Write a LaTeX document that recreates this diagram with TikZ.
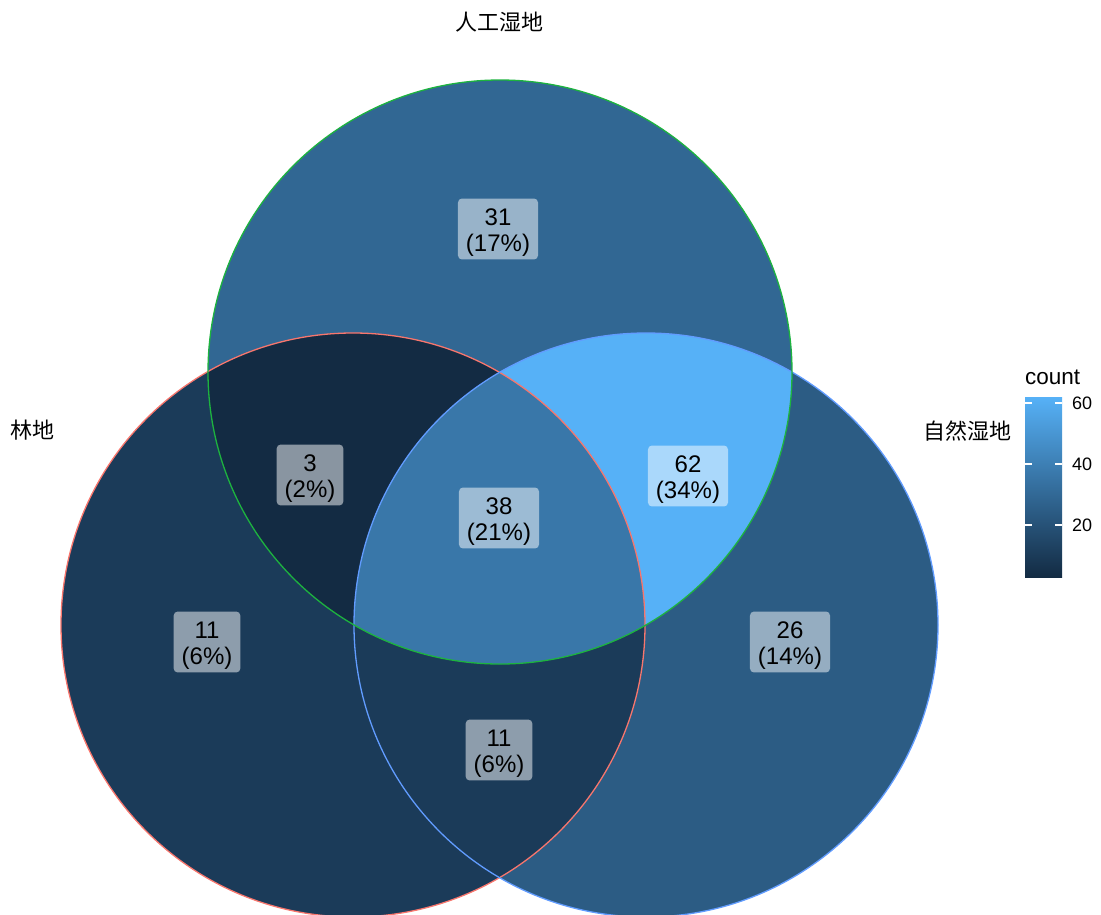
\documentclass[tikz,border=0pt]{standalone}
\usepackage{fontspec}
\setmainfont{Liberation Sans}
\newfontfamily\cjk{Noto Sans CJK SC}

\definecolor{cLow}{HTML}{132B43}
\definecolor{cHigh}{HTML}{56B1F7}
\definecolor{cMid}{HTML}{346C99}
\definecolor{fillA}{HTML}{316793}
\definecolor{fillB}{HTML}{1B3B59}
\definecolor{fillC}{HTML}{2C5C84}
\definecolor{fillAB}{HTML}{132B43}
\definecolor{fillAC}{HTML}{56B1F7}
\definecolor{fillBC}{HTML}{1B3B59}
\definecolor{fillABC}{HTML}{3977A9}
\definecolor{edgeA}{HTML}{1DB33F}
\definecolor{edgeB}{HTML}{F8766D}
\definecolor{edgeC}{HTML}{619CFF}

\newcommand{\cnt}[2]{\rule{0pt}{24pt}#1\\(#2\%)}

\begin{document}
\begin{tikzpicture}[x=1pt,y=-1pt]
    \tikzstyle{lbl}=[fill=white, fill opacity=0.5, text opacity=1, text=black, rounded corners=4pt, inner xsep=8pt, inner ysep=3pt, align=center, font=\fontsize{24}{26}\selectfont];
    \tikzstyle{setname}=[inner sep=0pt, font=\cjk\fontsize{22}{26}\selectfont];
    \tikzstyle{ticklbl}=[anchor=west, inner sep=0pt, font=\fontsize{18}{20}\selectfont];
    \tikzstyle{tick}=[draw=white, line width=1.2pt];
    \def\rad{292pt}

    \useasboundingbox (0,0) rectangle (1101,914);
    \clip (0,0) rectangle (1101,914);

    \coordinate (ca) at (500,372);
    \coordinate (cb) at (353,625);
    \coordinate (cc) at (646,625);

    % single sets
    \fill[fillB] (cb) circle (\rad);
    \fill[fillC] (cc) circle (\rad);
    \fill[fillA] (ca) circle (\rad);

    % overlaps
    \begin{scope}
        \clip (ca) circle (\rad);
        \fill[fillAB] (cb) circle (\rad);
        \fill[fillAC] (cc) circle (\rad);
    \end{scope}
    \begin{scope}
        \clip (cb) circle (\rad);
        \fill[fillBC] (cc) circle (\rad);
    \end{scope}
    \begin{scope}
        \clip (ca) circle (\rad);
        \clip (cb) circle (\rad);
        \fill[fillABC] (cc) circle (\rad);
    \end{scope}

    % edges
    \draw[edgeB, line width=1.3pt] (cb) circle (\rad);
    \draw[edgeC, line width=1.3pt] (cc) circle (\rad);
    \draw[edgeA, line width=1.3pt] (ca) circle (\rad);

    % counts
    \node (nA) at (498,229) [lbl] {\cnt{31}{17}};
    \node (nAB) at (310,475) [lbl] {\cnt{3}{2}};
    \node (nAC) at (688,476) [lbl] {\cnt{62}{34}};
    \node (nABC) at (499,518) [lbl] {\cnt{38}{21}};
    \node (nB) at (207,642) [lbl] {\cnt{11}{6}};
    \node (nC) at (790,642) [lbl] {\cnt{26}{14}};
    \node (nBC) at (499,750) [lbl] {\cnt{11}{6}};

    % set names
    \node (setA) at (499,22) [setname] {人工湿地};
    \node (setB) at (32,430) [setname] {林地};
    \node (setC) at (967,431) [setname] {自然湿地};

    % legend
    \node (ttl) at (1025,377) [anchor=west, inner sep=0pt, font=\fontsize{22.5}{26}\selectfont] {count};
    \shade[bottom color=cLow, middle color=cMid, top color=cHigh] (1025,397) rectangle (1062,577);
    \draw[tick] (1025,525) -- (1032,525);
    \draw[tick] (1055,525) -- (1062,525);
    \draw[tick] (1025,464) -- (1032,464);
    \draw[tick] (1055,464) -- (1062,464);
    \draw[tick] (1025,403) -- (1032,403);
    \draw[tick] (1055,403) -- (1062,403);
    \node (t20) at (1072,525) [ticklbl] {20};
    \node (t40) at (1072,464) [ticklbl] {40};
    \node (t60) at (1072,403) [ticklbl] {60};

\end{tikzpicture}
\end{document}
